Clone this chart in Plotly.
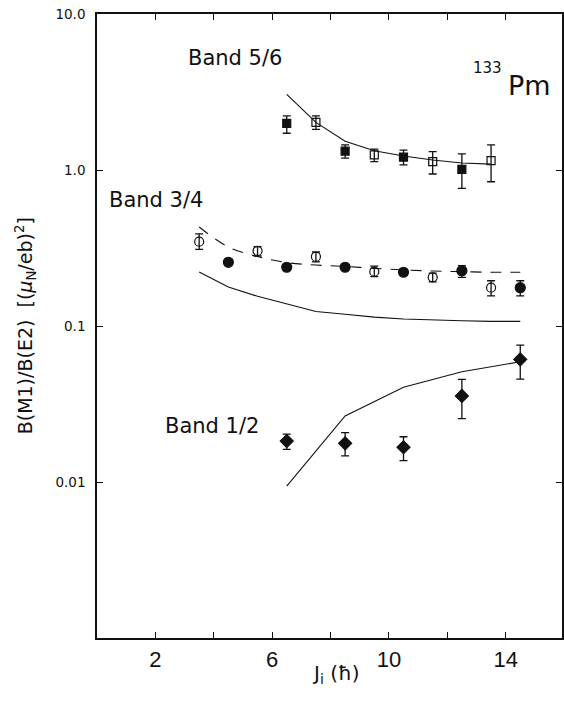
import plotly.graph_objects as go

# ---------------- data ----------------
# Band 5/6
b56_fill_J = [6.5, 8.5, 10.5, 12.5]
b56_fill_val = [1.99, 1.32, 1.21, 1.01]
b56_fill_hi = [2.22, 1.45, 1.34, 1.27]
b56_fill_lo = [1.72, 1.19, 1.08, 0.763]
b56_open_J = [7.5, 9.5, 11.5, 13.5]
b56_open_val = [2.02, 1.25, 1.13, 1.15]
b56_open_hi = [2.22, 1.36, 1.31, 1.45]
b56_open_lo = [1.82, 1.13, 0.943, 0.841]
b56_calc_J = [6.5, 7.5, 8.5, 9.5, 10.5, 11.5, 12.5, 13.5]
b56_calc_val = [3.05, 2.02, 1.53, 1.33, 1.23, 1.16, 1.11, 1.09]

# Band 3/4
b34_open_J = [3.5, 5.5, 7.5, 9.5, 11.5, 13.5]
b34_open_val = [0.347, 0.303, 0.278, 0.223, 0.205, 0.176]
b34_open_hi = [0.389, 0.323, 0.298, 0.242, 0.218, 0.195]
b34_open_lo = [0.310, 0.281, 0.258, 0.207, 0.192, 0.156]
b34_fill_J = [4.5, 6.5, 8.5, 10.5, 12.5, 14.5]
b34_fill_val = [0.256, 0.238, 0.238, 0.221, 0.226, 0.176]
b34_fill_hi = [0.268, 0.249, 0.249, 0.231, 0.244, 0.195]
b34_fill_lo = [0.245, 0.228, 0.228, 0.212, 0.205, 0.156]
b34_dash_J = [3.5, 4.5, 5.5, 6.5, 7.5, 8.5, 9.5, 10.5, 11.5, 12.5, 13.5, 14.5]
b34_dash_val = [0.431, 0.321, 0.279, 0.255, 0.246, 0.241, 0.234, 0.229, 0.225, 0.223, 0.221, 0.221]
b34_calc_J = [3.5, 4.5, 5.5, 6.5, 7.5, 8.5, 9.5, 10.5, 11.5, 12.5, 13.5, 14.5]
b34_calc_val = [0.222, 0.178, 0.155, 0.138, 0.124, 0.119, 0.114, 0.111, 0.109, 0.108, 0.107, 0.107]

# Band 1/2
b12_J = [6.5, 8.5, 10.5, 12.5, 14.5]
b12_val = [0.0183, 0.0177, 0.0167, 0.0356, 0.0611]
b12_hi = [0.0203, 0.0207, 0.0195, 0.0455, 0.0755]
b12_lo = [0.0162, 0.0147, 0.0137, 0.0255, 0.0457]
b12_calc_J = [6.5, 8.5, 10.5, 12.5, 14.5]
b12_calc_val = [0.0094, 0.0265, 0.0405, 0.0509, 0.059]

x_tickvals = [2, 6, 10, 14]
x_ticktext = ["2", "6", "10", "14"]
x_minorvals = [4, 8, 12]
y_tickvals = [10, 1, 0.1, 0.01]
y_ticktext = ["10.0", "1.0", "0.1", "0.01"]

INK = "#111111"

fig = go.Figure()


def line(x, y, dash="solid", shape="linear"):
    fig.add_trace(go.Scatter(x=x, y=y, mode="lines", line=dict(color=INK, width=1.1, dash=dash, shape=shape),
                             showlegend=False, hoverinfo="skip"))


def pts(x, v, hi, lo, symbol, size):
    up = [h - a for h, a in zip(hi, v)]
    dn = [a - l for a, l in zip(v, lo)]
    fig.add_trace(go.Scatter(
        x=x, y=v, mode="markers",
        marker=dict(symbol=symbol, size=size, color=INK, line=dict(color=INK, width=1.2)),
        error_y=dict(type="data", array=up, arrayminus=dn, symmetric=False,
                     color=INK, thickness=1.3, width=4),
        showlegend=False))


line(b56_calc_J, b56_calc_val)
line(b34_calc_J, b34_calc_val)
line(b34_dash_J, b34_dash_val, dash="11px,9px", shape="spline")
line(b12_calc_J, b12_calc_val)

pts(b56_fill_J, b56_fill_val, b56_fill_hi, b56_fill_lo, "square", 8)
pts(b56_open_J, b56_open_val, b56_open_hi, b56_open_lo, "square-open", 8)
pts(b34_open_J, b34_open_val, b34_open_hi, b34_open_lo, "circle-open", 9)
pts(b34_fill_J, b34_fill_val, b34_fill_hi, b34_fill_lo, "circle", 10)
pts(b12_J, b12_val, b12_hi, b12_lo, "diamond", 10)

axis_common = dict(showline=True, linecolor=INK, linewidth=1.6, mirror="ticks",
                   ticks="inside", ticklen=6, tickwidth=1.3, tickcolor=INK,
                   showgrid=False, zeroline=False)

fig.update_xaxes(range=[0, 15.93], tickmode="array", tickvals=x_tickvals, ticktext=x_ticktext,
                 tickfont=dict(family="Liberation Sans, Arial", size=22, color=INK),
                 minor=dict(tickmode="array", tickvals=x_minorvals, ticks="inside", ticklen=6,
                            tickwidth=1.3, tickcolor=INK, showgrid=False),
                 ticklabelstandoff=1, **axis_common)
fig.update_yaxes(type="log", range=[-3, 1], tickmode="array", tickvals=y_tickvals, ticktext=y_ticktext,
                 tickfont=dict(family="DejaVu Sans", size=13.5, color=INK),
                 ticklabelstandoff=7, **axis_common)

PL, PW, PT, PH = 97, 467, 14, 624


def px(xp):
    return (xp - PL) / PW


def py(yp):
    return (PT + PH - yp) / PH


anns = [
    ("Band 5/6", 236, 58, 21, 0),
    ("Band 3/4", 156, 200, 21, 0),
    ("Band 1/2", 212.5, 426, 21, 0),
    ("133", 489, 68, 15, 0),
    ("Pm", 531, 85, 27, 0),
    ("B(M1)/B(E2)&nbsp;&nbsp;[(<i>μ</i><sub>N</sub>/eb)<sup>2</sup>]", 25, 326, 19, -90),
    ("J<sub>i</sub>&nbsp;(ħ)", 337, 674, 20, 0),
]
for text, xx, yy, size, ang in anns:
    fig.add_annotation(text=text, x=px(xx), y=py(yy), xref="paper", yref="paper",
                       xanchor="center", yanchor="middle", showarrow=False, textangle=ang,
                       font=dict(family="DejaVu Sans", size=size, color=INK))

fig.update_layout(width=564, height=702, margin=dict(l=PL, r=564 - PL - PW, t=PT, b=702 - PT - PH),
                  plot_bgcolor="white", paper_bgcolor="white", showlegend=False)

fig.write_html("out.html")
